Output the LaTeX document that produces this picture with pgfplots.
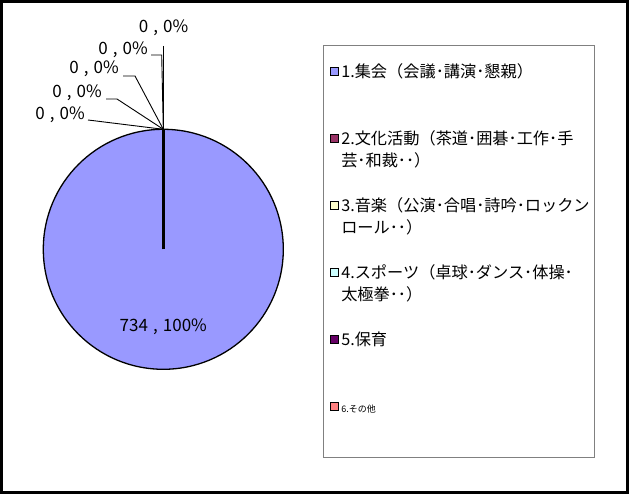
\documentclass[border=0pt]{standalone}
\usepackage{fontspec}
\setmainfont{Noto Sans CJK JP}
\usepackage{pgfplots}
\pgfplotsset{compat=1.18}

\definecolor{cA}{HTML}{9999FF}
\definecolor{cB}{HTML}{993366}
\definecolor{cC}{HTML}{FFFFCC}
\definecolor{cD}{HTML}{CCFFFF}
\definecolor{cE}{HTML}{660066}
\definecolor{cF}{HTML}{FF8080}

\newcommand{\lab}{\fontsize{17}{19}\selectfont}
\newcommand{\val}[2]{#1\hspace{0.3em},\hspace{0.3em}#2\%}
\pgfplotsset{
    chartarea/.style={
        hide axis, scale only axis,
        width=629pt, height=494pt,
        xmin=0, xmax=629, ymin=0, ymax=494,
        clip=false, no markers,
    },
}

\begin{document}
\begin{tikzpicture}
% pie: one slice of 734 (100%), the other five are 0
\begin{axis}[chartarea]
\addplot[forget plot, only marks, mark=*, mark size=120pt,
    mark options={fill=cA, draw=black, line width=1.3pt}]
    coordinates {(163.3,244.7)};
\end{axis}
\begin{axis}[
    chartarea,
    legend cell align=left,
    legend image code/.code={
        \path[draw=black, line width=1pt, fill] (0pt,1.5pt) rectangle (8pt,9.5pt);
        \path (10pt,0pt);
    },
    legend style={
        at={(0.51351,0.90891)}, anchor=north west,
        draw=gray, line width=0.8pt,
        inner xsep=7pt, inner ysep=5pt,
        row sep=0pt,
        font=\fontsize{16.2}{22}\selectfont,
        nodes={inner sep=0pt, text height=27pt, text depth=40pt},
        cells={anchor=base west},
    },
]
% slice edge at twelve o'clock
\addplot[forget plot, black, line width=3pt] coordinates {(163.3,244.7) (163.3,364.7)};
% leader lines of the 0 slices
\addplot[forget plot, black, line width=0.9pt] coordinates {(163.3,448) (163.3,364.7)};
\addplot[forget plot, black, line width=0.9pt] coordinates {(151,439) (161.7,439) (163.3,364.7)};
\addplot[forget plot, black, line width=0.9pt] coordinates {(123,418) (135,418) (163.3,364.7)};
\addplot[forget plot, black, line width=0.9pt] coordinates {(106,395) (117,395) (163.3,364.7)};
\addplot[forget plot, black, line width=0.9pt] coordinates {(88,374) (163.3,364.7)};

\node[inner sep=0pt, font=\lab] at (axis cs:163.5,466) {\val{0}{0}};
\node[inner sep=0pt, font=\lab, anchor=east] at (axis cs:148,444) {\val{0}{0}};
\node[inner sep=0pt, font=\lab, anchor=east] at (axis cs:119,425) {\val{0}{0}};
\node[inner sep=0pt, font=\lab, anchor=east] at (axis cs:102,401) {\val{0}{0}};
\node[inner sep=0pt, font=\lab, anchor=east] at (axis cs:85,379) {\val{0}{0}};
\node[inner sep=0pt, font=\lab] at (axis cs:163.3,167.3) {\val{734}{100}};

\addlegendimage{fill=cA}
\addlegendentry{\parbox[t]{246pt}{1.集会（会議･講演･懇親）}}
\addlegendimage{fill=cB}
\addlegendentry{\parbox[t]{246pt}{2.文化活動（茶道･囲碁･工作･手\\芸･和裁･･）}}
\addlegendimage{fill=cC}
\addlegendentry{\parbox[t]{246pt}{3.音楽（公演･合唱･詩吟･ロックン\\ロール･･）}}
\addlegendimage{fill=cD}
\addlegendentry{\parbox[t]{246pt}{4.スポーツ（卓球･ダンス･体操･\\太極拳･･）}}
\addlegendimage{fill=cE}
\addlegendentry{\parbox[t]{246pt}{5.保育}}
\addlegendimage{fill=cF}
\addlegendentry{\parbox[t]{246pt}{\fontsize{9}{11}\selectfont 6.その他}}

% outer frame of the chart area
\path (axis cs:0,0) rectangle (axis cs:629,494);
\draw[black, line width=3pt] (axis cs:1.5,1.5) rectangle (axis cs:627.5,492.5);
\end{axis}
\end{tikzpicture}
\end{document}
